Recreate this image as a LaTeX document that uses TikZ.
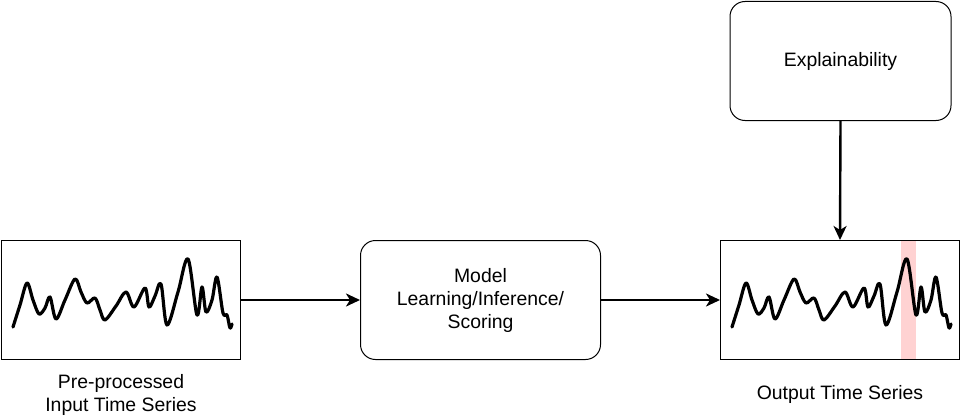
\documentclass[tikz,border=0pt]{standalone}
\usepackage{fontspec}
\setmainfont{Liberation Sans}
\usetikzlibrary{arrows.meta}
\begin{document}
\begin{tikzpicture}[x=1pt,y=-1pt,
  lbl/.style={font=\fontsize{19.4}{23}\selectfont, align=center, inner sep=0pt},
  tsbox/.style={draw, line width=1pt, minimum width=239pt, minimum height=119pt, inner sep=0pt},
  rbox/.style={draw, line width=1pt, rounded corners=15pt, minimum width=240pt, minimum height=119pt, inner sep=0pt, align=center, font=\fontsize{19.4}{23}\selectfont},
  arr/.style={line width=2.4pt, -{Stealth[length=14pt,width=13pt,inset=4pt]}},
  wave/.style={line width=3.2pt, line join=round, line cap=round}]
\useasboundingbox (0,0) rectangle (966,420);
\fill[white] (0,0) rectangle (966,420);
% highlight band
\fill[red!60!pink!25] (900.5,240) rectangle (915.5,360);
% boxes
\node[tsbox] (inbox) at (121,300) {};
\node[tsbox] (outbox) at (840,300) {};
\node[rbox] (model) at (480.5,300) {Model\\Learning/Inference/\\Scoring};
\node[rbox, minimum width=221pt] (expl) at (840.5,61) {Explainability};
% waveforms
\foreach \dx in {0, 719}{
  \draw[wave, xshift=\dx] plot[smooth, tension=0.55] coordinates {
    (13,327) (20,305) (27,283) (33,300) (39,314) (45,308) (50,297) (56,319) (65,300) (75,279)
    (81,292) (87,303) (95,298) (100,310) (105,320) (116,306) (126,292) (134,307)
    (145,288) (149,307) (155,296) (161,284) (167,325) (178,292) (188,259) (197,315)
    (202,287) (206,312) (212,300) (217,277) (223,313) (227,315) (230,328) (232,324)};
}
% labels
\node[lbl] (inlbl) at (121,394.5) {Pre-processed\\Input Time Series};
\node[lbl] (outlbl) at (840,394) {Output Time Series};
% arrows
\draw[arr] (inbox.east) -- (model.west);
\draw[arr] (model.east) -- (outbox.west);
\draw[arr] (expl.south) -- (outbox.north);
\end{tikzpicture}
\end{document}
